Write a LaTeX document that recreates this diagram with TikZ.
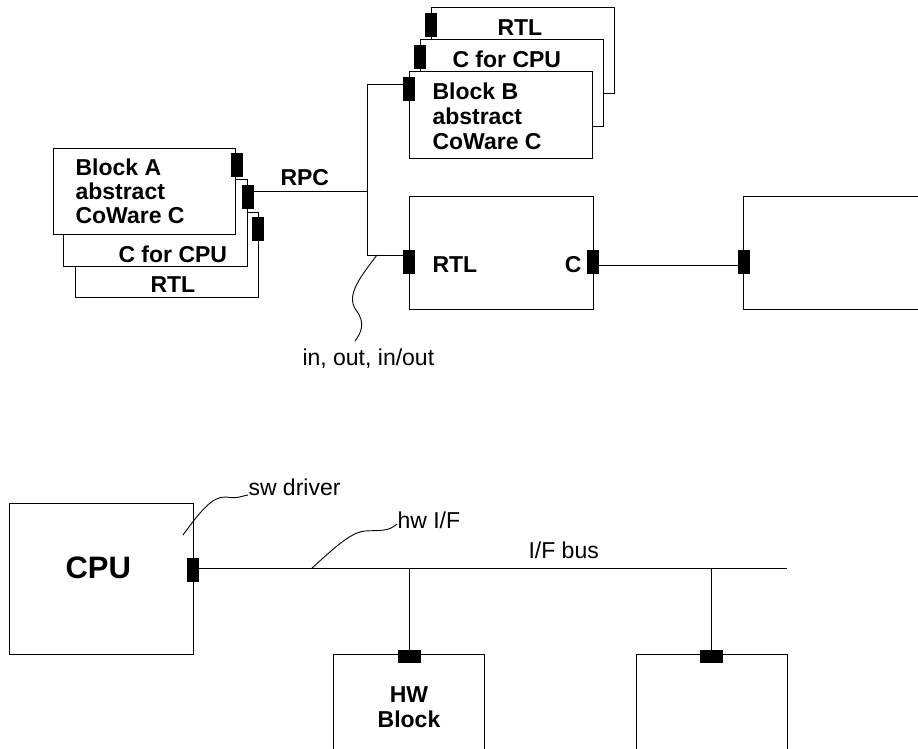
\documentclass[tikz,border=0pt]{standalone}
\usepackage{fontspec}
\setmainfont{Liberation Sans}
\begin{document}
\begin{tikzpicture}[x=1pt,y=-1pt, line width=1pt,
  blk/.style={draw, fill=white, inner sep=0pt, anchor=north west},
  vport/.style={fill=black, draw=black, line width=0.5pt, minimum width=11pt, minimum height=23pt, inner sep=0pt},
  hport/.style={fill=black, draw=black, line width=0.5pt, minimum width=22pt, minimum height=12pt, inner sep=0pt},
  lbl/.style={font=\fontsize{23}{27}\selectfont\bfseries, inner sep=0pt, anchor=base west},
  note/.style={font=\fontsize{23}{27}\selectfont, inner sep=0pt, anchor=base west},
  wire/.style={line width=1pt},
  leader/.style={line width=0.9pt}
]
\path[use as bounding box, clip] (0,0) rectangle (918,748);

% ---- Block A stack ----
\node[blk, minimum width=183pt, minimum height=85pt] (A3) at (75,212) {};
\node[blk, minimum width=184pt, minimum height=87pt] (A2) at (63,179) {};
\node[blk, minimum width=182pt, minimum height=86pt] (A1) at (53,148) {};
\node[vport] (pA1) at (236.5,164.5) {};
\node[vport] (pA2) at (247.5,197) {};
\node[vport] (pA3) at (258,228.5) {};
\node[lbl] (tA1) at (75,175) {Block A};
\node[lbl] (tA1b) at (75,199) {abstract};
\node[lbl] (tA1c) at (75,223) {CoWare C};
\node[lbl] (tA2) at (118,262) {C for CPU};
\node[lbl] (tA3) at (150,292) {RTL};

% ---- Block B stack ----
\node[blk, minimum width=183pt, minimum height=86pt] (B3) at (431,7) {};
\node[blk, minimum width=183pt, minimum height=87pt] (B2) at (420,39) {};
\node[blk, minimum width=183pt, minimum height=87pt] (B1) at (409,71) {};
\node[vport] (pB3) at (431,24.5) {};
\node[vport] (pB2) at (419.5,57) {};
\node[vport] (pB1) at (409,89) {};
\node[lbl] (tB1) at (432,99) {Block B};
\node[lbl] (tB1b) at (432,124) {abstract};
\node[lbl] (tB1c) at (432,149) {CoWare C};
\node[lbl] (tB2) at (452,67) {C for CPU};
\node[lbl] (tB3) at (497,35) {RTL};

% ---- RTL block and right block ----
\node[blk, minimum width=184pt, minimum height=113pt] (R) at (409,196) {};
\node[blk, minimum width=200pt, minimum height=113pt] (X) at (743,196) {};
\node[vport] (pR1) at (409,261.5) {};
\node[vport] (pR2) at (592.5,261.5) {};
\node[vport] (pX) at (743.5,261.5) {};
\node[lbl] (tR) at (432,272) {RTL};
\node[lbl, anchor=base east] (tC) at (582,272) {C};

% ---- wires (top) ----
\coordinate (jB) at (367,84);
\coordinate (jA) at (367,191);
\coordinate (jR) at (367,255);
\draw[wire] (pB1.west |- jB) -- (jB) -- (jR) -- (pR1.west |- jR);
\draw[wire] (pA2.east |- jA) -- (jA);
\draw[wire] ([yshift=-4pt]pR2.east) -- ([yshift=-4pt]pX.west);
\node[lbl] (tRPC) at (280,185) {RPC};

\coordinate (ioS) at (377,255);
\node[note] (tio) at (302,365) {in, out, in/out};
\draw[leader] (ioS) .. controls (362,275) and (345,295) .. (356,310)
  .. controls (366,323) and (361,333) .. (355,341);

% ---- bottom ----
\node[blk, minimum width=184pt, minimum height=151pt] (CPU) at (9,503) {};
\node[blk, minimum width=151pt, minimum height=120pt] (HW) at (333,654) {};
\node[blk, minimum width=151pt, minimum height=120pt] (Y) at (636,654) {};
\node[vport] (pCPU) at (193,569.5) {};
\node[hport] (pHW) at (409,656.5) {};
\node[hport] (pY) at (711.5,656.5) {};
\node[font=\fontsize{31}{36}\selectfont\bfseries, inner sep=0pt, anchor=base west] (tCPU) at (65,578) {CPU};
\node[lbl, anchor=base] (tHW) at (409,702) {HW};
\node[lbl, anchor=base] (tHWb) at (409,727) {Block};

\coordinate (busEnd) at (787,568);
\draw[wire] (pCPU.east |- busEnd) -- (busEnd);
\draw[wire] (pHW.north |- busEnd) -- (pHW.north);
\draw[wire] (pY.north |- busEnd) -- (pY.north);
\node[note] (tbus) at (528,558) {I/F bus};

\node[note] (tsw) at (248,495) {sw driver};
\coordinate (swS) at (183,535);
\draw[leader] (swS) .. controls (200,512) and (212,496) .. (226,497)
  .. controls (238,499) and (241,496) .. (tsw.base west);

\node[note] (thw) at (397,528) {hw I/F};
\coordinate (hwS) at (312,568);
\draw[leader] (hwS) .. controls (330,552) and (350,532) .. (365,531)
  .. controls (380,530) and (388,532) .. ([yshift=4pt]thw.base west);
\end{tikzpicture}
\end{document}
